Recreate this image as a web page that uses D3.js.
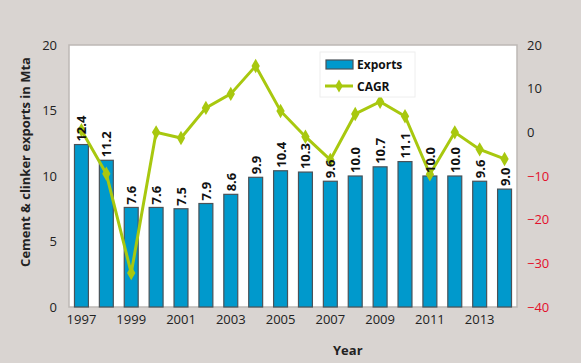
<!DOCTYPE html>
<html>
<head>
<meta charset="utf-8">
<script src="https://cdn.jsdelivr.net/npm/d3@7"></script>
<style>
  body { margin: 0; background: #d9d4d1; }
  svg { display: block; font-family: "Open Sans", sans-serif; }
</style>
</head>
<body>
<svg id="svg"></svg>
<script>
const years = [1997, 1998, 1999, 2000, 2001, 2002, 2003, 2004, 2005, 2006, 2007, 2008, 2009, 2010, 2011, 2012, 2013, 2014];
const exportsMta = [12.4, 11.2, 7.6, 7.6, 7.5, 7.9, 8.6, 9.9, 10.4, 10.3, 9.6, 10.0, 10.7, 11.1, 10.0, 10.0, 9.6, 9.0];
const cagr = [0.5, -9.5, -32.2, 0, -1.3, 5.6, 8.8, 15.2, 4.9, -1, -6.3, 4.2, 7, 3.7, -9.6, 0, -3.9, -6.1];
const leftTicks = [0, 5, 10, 15, 20];
const rightTicks = [20, 10, 0, -10, -20, -30, -40];
const yearTicks = [1997, 1999, 2001, 2003, 2005, 2007, 2009, 2011, 2013];

const width = 581;
const height = 363;
const margin = { top: 45, right: 64, bottom: 56, left: 69 };
const chartWidth = width - margin.left - margin.right;
const chartHeight = height - margin.top - margin.bottom;

let svg = d3.select("#svg").attr("width", width).attr("height", height);

svg.append("rect").attr("width", width).attr("height", height).attr("fill", "#d9d4d1");

let chart = svg.append("g").attr("transform", `translate(${margin.left},${margin.top})`);

// plot area
chart.append("rect")
    .attr("width", chartWidth).attr("height", chartHeight)
    .attr("fill", "white")
    .attr("stroke", "#bdb8b5").attr("stroke-width", 1.5);

let xScale = d3.scaleBand().domain(years).range([0, chartWidth]).paddingInner(0.44).paddingOuter(0.22);
let yLeft = d3.scaleLinear().domain([0, 20]).range([chartHeight, 0]);
let yRight = d3.scaleLinear().domain([-40, 20]).range([chartHeight, 0]);

// bars
chart.selectAll(".bar")
    .data(years)
    .join("rect")
    .attr("class", "bar")
    .attr("x", d => xScale(d))
    .attr("y", (d, i) => yLeft(exportsMta[i]))
    .attr("width", xScale.bandwidth())
    .attr("height", (d, i) => chartHeight - yLeft(exportsMta[i]))
    .attr("fill", "#0099cc")
    .attr("stroke", "#4a5258").attr("stroke-width", 1.2);

// line
const cx = d => xScale(d) + xScale.bandwidth() / 2;
chart.append("path")
    .datum(years)
    .attr("fill", "none")
    .attr("stroke", "#a8c80f")
    .attr("stroke-width", 3)
    .attr("d", d3.line().x(d => cx(d)).y((d, i) => yRight(cagr[i])));

chart.selectAll(".marker")
    .data(years)
    .join("path")
    .attr("class", "marker")
    .attr("transform", (d, i) => `translate(${cx(d)},${yRight(cagr[i])})`)
    .attr("d", d3.symbol(d3.symbolDiamond, 60))
    .attr("fill", "#a8c80f");

// value labels
chart.selectAll(".val")
    .data(years)
    .join("text")
    .attr("class", "val")
    .attr("transform", (d, i) => `translate(${cx(d) + 5},${yLeft(exportsMta[i]) - 3}) rotate(-90)`)
    .attr("font-size", 13).attr("font-weight", "bold").attr("fill", "#111")
    .text((d, i) => exportsMta[i].toFixed(1));

// left axis
let leftAxis = chart.append("g")
    .call(d3.axisLeft(yLeft).tickValues(leftTicks).tickSize(0).tickPadding(12));
leftAxis.select(".domain").remove();
leftAxis.selectAll("text").attr("font-size", 13).attr("fill", "#222").attr("font-family", "Open Sans");

// right axis
let rightAxis = chart.append("g")
    .attr("transform", `translate(${chartWidth},0)`)
    .call(d3.axisRight(yRight).tickValues(rightTicks).tickSize(0).tickPadding(10));
rightAxis.select(".domain").remove();
rightAxis.selectAll("text").attr("font-size", 13).attr("font-family", "Open Sans")
    .attr("fill", d => d < 0 ? "#e3102c" : "#222");

// x axis
let xAxis = chart.append("g")
    .attr("transform", `translate(0,${chartHeight})`)
    .call(d3.axisBottom(xScale).tickValues(yearTicks).tickSize(0).tickPadding(8));
xAxis.select(".domain").remove();
xAxis.selectAll("text").attr("font-size", 13).attr("fill", "#222").attr("font-family", "Open Sans");

// axis titles
svg.append("text")
    .attr("transform", "translate(30,162) rotate(-90)")
    .attr("text-anchor", "middle")
    .attr("font-size", 13).attr("font-weight", "bold").attr("fill", "#222")
    .text("Cement & clinker exports in Mta");

svg.append("text")
    .attr("x", 333).attr("y", 355)
    .attr("font-size", 13).attr("font-weight", "bold").attr("fill", "#222")
    .text("Year");

// legend
let legend = svg.append("g").attr("transform", "translate(320,52)");
legend.append("rect").attr("width", 95).attr("height", 45)
    .attr("fill", "white").attr("stroke", "#eeeeee");
legend.append("rect").attr("x", 6).attr("y", 8).attr("width", 27).attr("height", 9)
    .attr("fill", "#0099cc").attr("stroke", "#4a5258").attr("stroke-width", 1.2);
legend.append("text").attr("x", 37).attr("y", 17)
    .attr("font-size", 12).attr("font-weight", "bold").attr("fill", "#111").text("Exports");
legend.append("line").attr("x1", 5).attr("x2", 33).attr("y1", 34).attr("y2", 34)
    .attr("stroke", "#a8c80f").attr("stroke-width", 3);
legend.append("path").attr("transform", "translate(19,34)")
    .attr("d", d3.symbol(d3.symbolDiamond, 50)).attr("fill", "#a8c80f");
legend.append("text").attr("x", 37).attr("y", 39)
    .attr("font-size", 12).attr("font-weight", "bold").attr("fill", "#111").text("CAGR");
</script>
</body>
</html>
